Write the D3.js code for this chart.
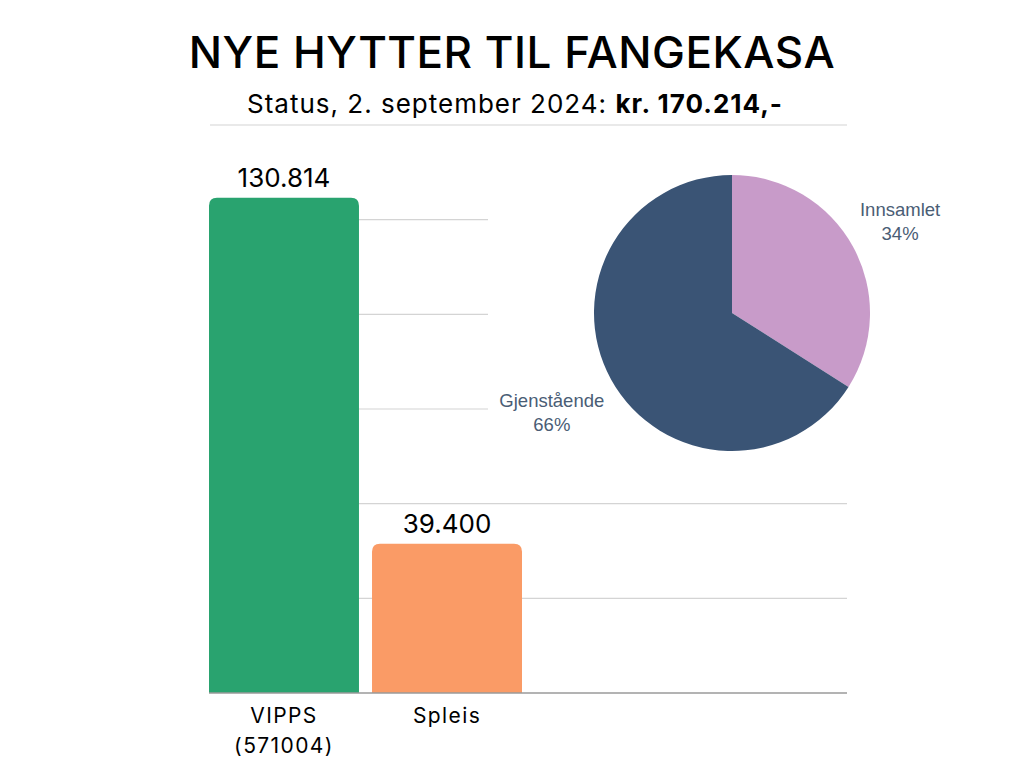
<!DOCTYPE html>
<html>
<head>
<meta charset="utf-8">
<script src="https://cdn.jsdelivr.net/npm/d3@7"></script>
<style>
  body { margin: 0; background: #fff; }
  svg { display: block; }
</style>
</head>
<body>
<div id="chart"></div>
<script>
// DATA
let barCategories = ['VIPPS', 'Spleis'];
let barSubLabels = ['(571004)', ''];
let barValues = [130814, 39400];
let barValueLabels = ['130.814', '39.400'];
let barColors = ['#29a36f', '#fa9b66'];
let yTicks = [0, 25000, 50000, 75000, 100000, 125000, 150000];

let pieCategories = ['Innsamlet', 'Gjenstående'];
let pieValues = [34, 66];
let pieLabels = ['34%', '66%'];
let pieColors = ['#c89bc9', '#3a5475'];

// PLOTTING VARIABLES
let width = 1024,
    height = 768;

let svg = d3.select('#chart')
    .append('svg')
    .attr('width', width)
    .attr('height', height);

// title
svg.append('text')
    .attr('x', 512)
    .attr('y', 68)
    .attr('text-anchor', 'middle')
    .style('font-family', 'Inter')
    .style('font-weight', 500)
    .style('font-size', '44px')
    .style('letter-spacing', '0.5px')
    .attr('fill', '#000')
    .text('NYE HYTTER TIL FANGEKASA');

let sub = svg.append('text')
    .attr('x', 515)
    .attr('y', 113)
    .attr('text-anchor', 'middle')
    .style('font-family', 'Inter')
    .style('font-size', '26px')
    .style('letter-spacing', '1px')
    .attr('fill', '#000');
sub.append('tspan').style('font-weight', 400).text('Status, 2. september 2024: ');
sub.append('tspan').style('font-weight', 700).text('kr. 170.214,-');

// scales
let x = d3.scaleBand()
    .domain(barCategories)
    .range([209, 522])
    .paddingInner(0.08)
    .paddingOuter(0);

let y = d3.scaleLinear()
    .domain([0, 150000])
    .range([693, 125]);

// gridlines
svg.append('g')
    .selectAll('line')
    .data(yTicks.slice(1))
    .enter()
    .append('line')
    .attr('x1', 210)
    .attr('x2', 847)
    .attr('y1', d => y(d))
    .attr('y2', d => y(d))
    .attr('stroke', '#d4d4d4')
    .attr('stroke-width', 1.2);

// bars, rounded top corners
let r = 8;
svg.append('g')
    .selectAll('path')
    .data(barValues)
    .enter()
    .append('path')
    .attr('d', (d, i) => {
        let x0 = x(barCategories[i]), x1 = x0 + x.bandwidth();
        let y0 = y(0), y1 = y(d);
        return `M${x0},${y0}V${y1 + r}Q${x0},${y1} ${x0 + r},${y1}H${x1 - r}Q${x1},${y1} ${x1},${y1 + r}V${y0}Z`;
    })
    .attr('fill', (d, i) => barColors[i]);

// baseline
svg.append('line')
    .attr('x1', 209)
    .attr('x2', 847)
    .attr('y1', y(0))
    .attr('y2', y(0))
    .attr('stroke', '#9a9a9a')
    .attr('stroke-width', 1.5);

// value labels
svg.append('g')
    .selectAll('text')
    .data(barValues)
    .enter()
    .append('text')
    .attr('x', (d, i) => x(barCategories[i]) + x.bandwidth() / 2)
    .attr('y', d => y(d) - 11)
    .attr('text-anchor', 'middle')
    .style('font-family', 'Inter')
    .style('font-size', '26px')
    .attr('fill', '#000')
    .text((d, i) => barValueLabels[i]);

// category labels
let catLabels = svg.append('g')
    .selectAll('text')
    .data(barCategories)
    .enter()
    .append('text')
    .attr('text-anchor', 'middle')
    .style('font-family', 'Inter')
    .style('font-size', '21px')
    .style('letter-spacing', '1.4px')
    .attr('fill', '#000');
catLabels.append('tspan')
    .attr('x', d => x(d) + x.bandwidth() / 2)
    .attr('y', 723)
    .text(d => d);
catLabels.append('tspan')
    .attr('x', d => x(d) + x.bandwidth() / 2)
    .attr('y', 753)
    .text((d, i) => barSubLabels[i]);

// pie panel (white background covers the gridlines behind it)
svg.append('rect')
    .attr('x', 488)
    .attr('y', 132)
    .attr('width', 500)
    .attr('height', 364)
    .attr('fill', '#fff');

let cx = 732, cy = 313, radius = 138;
let pie = d3.pie().sort(null).value(d => d);
let arc = d3.arc().innerRadius(0).outerRadius(radius);
let arcs = pie(pieValues);

let pieG = svg.append('g')
    .attr('transform', `translate(${cx},${cy})`);

pieG.selectAll('path')
    .data(arcs)
    .enter()
    .append('path')
    .attr('d', arc)
    .attr('fill', (d, i) => pieColors[i]);

// pie labels, outside the slices
let labelRadius = [1.39, 1.49];
let pl = pieG.selectAll('.pie-label')
    .data(arcs)
    .enter()
    .append('text')
    .attr('class', 'pie-label')
    .attr('text-anchor', 'middle')
    .style('font-family', 'Liberation Sans')
    .style('font-size', '18.5px')
    .attr('fill', '#4a5d75');
pl.each(function(d, i) {
    let a = (d.startAngle + d.endAngle) / 2;
    let tx = Math.sin(a) * radius * labelRadius[i];
    let ty = -Math.cos(a) * radius * labelRadius[i];
    let t = d3.select(this);
    t.append('tspan').attr('x', tx).attr('y', ty - 5).text(pieCategories[i]);
    t.append('tspan').attr('x', tx).attr('y', ty + 19).text(pieLabels[i]);
});
</script>
</body>
</html>
